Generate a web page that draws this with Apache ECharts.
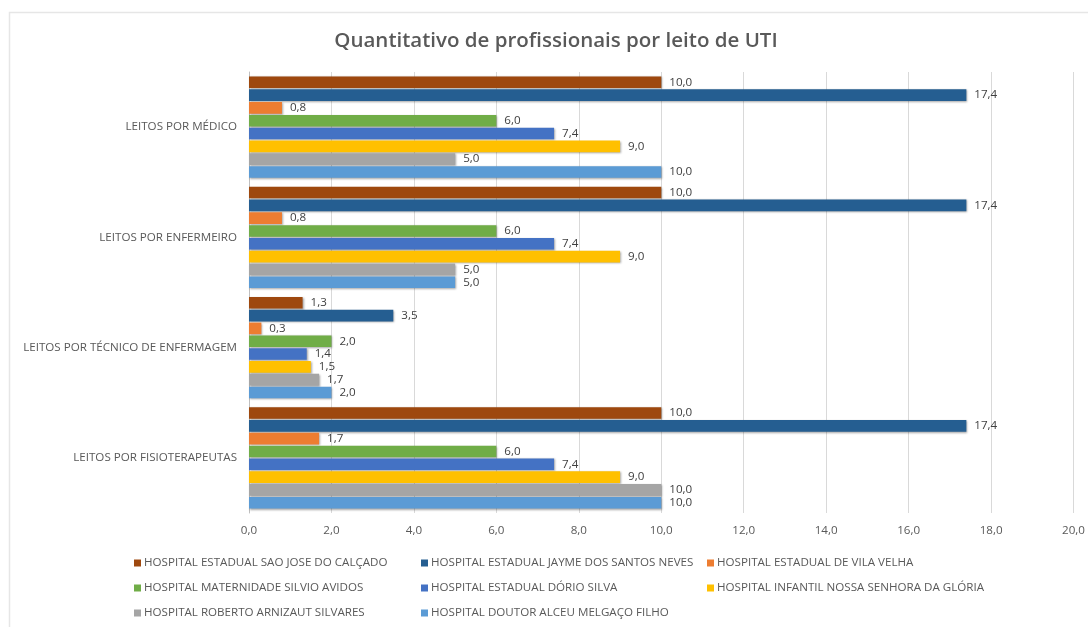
<!DOCTYPE html>
<html>
<head>
<meta charset="utf-8">
<title>Quantitativo de profissionais por leito de UTI</title>
<script src="https://cdn.jsdelivr.net/npm/echarts@6/dist/echarts.min.js"></script>
<style>
  html, body { margin: 0; padding: 0; background: #ffffff; }
  #chart { width: 1088px; height: 627px; }
</style>
</head>
<body>
<div id="chart"></div>
<script>
// Categories, listed top to bottom
const categories = [
  'LEITOS POR MÉDICO',
  'LEITOS POR ENFERMEIRO',
  'LEITOS POR TÉCNICO DE ENFERMAGEM',
  'LEITOS POR FISIOTERAPEUTAS'
];

// Hospitals (series), in drawing order within each group
const hospitals = [
  'HOSPITAL ESTADUAL SAO JOSE DO CALÇADO',
  'HOSPITAL ESTADUAL JAYME DOS SANTOS NEVES',
  'HOSPITAL ESTADUAL DE VILA VELHA',
  'HOSPITAL MATERNIDADE SILVIO AVIDOS',
  'HOSPITAL ESTADUAL DÓRIO SILVA',
  'HOSPITAL INFANTIL NOSSA SENHORA DA GLÓRIA',
  'HOSPITAL ROBERTO ARNIZAUT SILVARES',
  'HOSPITAL DOUTOR ALCEU MELGAÇO FILHO'
];

// Values per hospital, one per category
const saoJoseCalcado   = [10.0, 10.0, 1.3, 10.0];
const jaymeSantosNeves = [17.4, 17.4, 3.5, 17.4];
const vilaVelha        = [0.8, 0.8, 0.3, 1.7];
const silvioAvidos     = [6.0, 6.0, 2.0, 6.0];
const dorioSilva       = [7.4, 7.4, 1.4, 7.4];
const infantilGloria   = [9.0, 9.0, 1.5, 9.0];
const robertoSilvares  = [5.0, 5.0, 1.7, 10.0];
const alceuMelgaco     = [10.0, 5.0, 2.0, 10.0];

const seriesValues = [
  saoJoseCalcado, jaymeSantosNeves, vilaVelha, silvioAvidos,
  dorioSilva, infantilGloria, robertoSilvares, alceuMelgaco
];

const colors = ['#9E480E', '#255E91', '#ED7D31', '#70AD47', '#4472C4', '#FFC000', '#A5A5A5', '#5B9BD5'];

const xTicks = { min: 0, max: 20, interval: 2 };

const fmt = v => v.toFixed(1).replace('.', ',');
const FONT = '"Open Sans", "DejaVu Sans", sans-serif';
const TXT = 11.6;

const chart = echarts.init(document.getElementById('chart'), null, { renderer: 'canvas' });

// Legend laid out as three vertical columns
const legendBase = {
  orient: 'vertical',
  top: 556,
  height: 68,
  padding: 0,
  itemGap: 11,
  itemWidth: 7,
  itemHeight: 7,
  icon: 'rect',
  textStyle: { fontFamily: FONT, fontSize: TXT, lineHeight: 14, color: '#595959', padding: [0, 0, 0, -2] },
  selectedMode: false
};

chart.setOption({
  animation: false,
  backgroundColor: '#ffffff',
  color: colors,
  title: {
    text: 'Quantitativo de profissionais por leito de UTI',
    left: 551,
    textAlign: 'center',
    top: 26,
    textStyle: { fontFamily: FONT, fontSize: 20.5, fontWeight: 600, color: '#595959' }
  },
  graphic: [{
    type: 'rect',
    shape: { x: 9.5, y: 12.5, width: 1090, height: 620 },
    style: { fill: 'none', stroke: '#e6e6e6', lineWidth: 1.5 },
    silent: true,
    z: -1
  }],
  legend: [
    Object.assign({ left: 134, data: [hospitals[0], hospitals[3], hospitals[6]] }, legendBase),
    Object.assign({ left: 421, data: [hospitals[1], hospitals[4], hospitals[7]] }, legendBase),
    Object.assign({ left: 707, data: [hospitals[2], hospitals[5]] }, legendBase)
  ],
  grid: { left: 249, right: 14, top: 72, bottom: 114, containLabel: false },
  xAxis: {
    type: 'value',
    min: xTicks.min,
    max: xTicks.max,
    interval: xTicks.interval,
    axisLine: { show: false },
    axisTick: { show: false },
    splitLine: { show: true, lineStyle: { color: '#d9d9d9', width: 1 } },
    axisLabel: {
      formatter: v => fmt(v),
      fontFamily: FONT, fontSize: TXT, color: '#595959', margin: 12
    }
  },
  yAxis: {
    type: 'category',
    data: categories,
    inverse: true,
    axisLine: { show: true, lineStyle: { color: '#bfbfbf' } },
    axisTick: { show: false },
    axisLabel: { fontFamily: FONT, fontSize: TXT, color: '#595959', margin: 12 }
  },
  series: hospitals.map((name, i) => ({
    name,
    type: 'bar',
    data: seriesValues[i],
    barGap: '10%',
    barCategoryGap: '8%',
    itemStyle: {
      color: colors[i],
      shadowColor: 'rgba(0,0,0,0.35)',
      shadowBlur: 2,
      shadowOffsetX: 1,
      shadowOffsetY: 1
    },
    label: {
      show: true,
      position: 'right',
      distance: 8,
      formatter: p => fmt(p.value),
      fontFamily: FONT,
      fontSize: TXT,
      color: '#404040'
    }
  }))
});
</script>
</body>
</html>
